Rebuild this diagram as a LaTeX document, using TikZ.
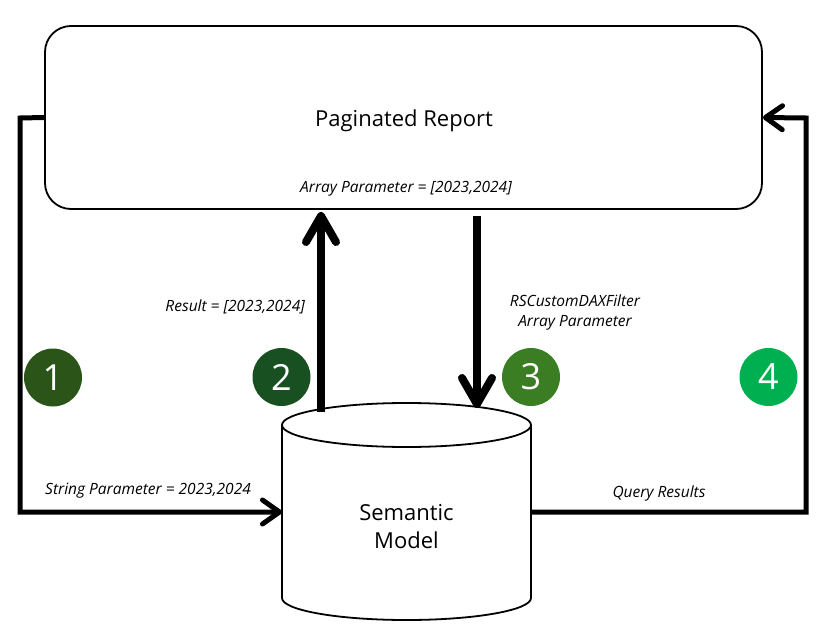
\documentclass[tikz,border=0pt]{standalone}
\usepackage{fontspec}
\setmainfont{Open Sans}
\usetikzlibrary{arrows.meta}
\definecolor{cone}{RGB}{43,85,24}
\definecolor{ctwo}{RGB}{24,80,34}
\definecolor{cthree}{RGB}{59,125,35}
\definecolor{cfour}{RGB}{0,176,80}
\tikzset{
  boxline/.style={draw=black,line width=1.8pt,fill=white},
  loopline/.style={line width=5pt,line join=miter},
  looparrow/.style={loopline,-{Straight Barb[length=17pt,width=24pt,round]}},
  bigarrow/.style={line width=8pt,-{Straight Barb[length=26pt,width=30pt,round]}},
  numcircle/.style={circle,minimum size=58pt,inner sep=0pt,text=white,font=\fontsize{36}{36}\selectfont},
  smalllabel/.style={font=\fontsize{15.5}{20}\selectfont\itshape,inner sep=1pt,align=center},
  biglabel/.style={font=\fontsize{22}{28}\selectfont,align=center}
}
\begin{document}
\begin{tikzpicture}[x=1pt,y=-1pt]
\useasboundingbox (0,0) rectangle (823,637);
% report box
\node[boxline,rounded corners=26pt,minimum width=717pt,minimum height=183pt,inner sep=0pt] (report) at (403.5,117.5) {};
\node[biglabel] (rtitle) at (404,121) {Paginated Report};
\node[smalllabel] (arrparam) at (406,189) {Array Parameter = [2023,2024]};
% cylinder
\draw[boxline] (282,425) -- (282,598) arc[start angle=180,end angle=0,x radius=124.5,y radius=22] -- (531,425);
\draw[boxline] (406.5,425) ellipse[x radius=124.5,y radius=22];
\node[biglabel] (sm) at (406.5,527) {Semantic\\Model};
% connection points
\coordinate (smleft) at (282,512);
\coordinate (smright) at (531,512);
\coordinate (lcorner1) at (20,118);
\coordinate (lcorner2) at (20,512);
\coordinate (rcorner1) at (806,512);
\coordinate (rcorner2) at (806,118);
\coordinate (twostart) at (321,412);
\coordinate (twoend) at (321,212);
\coordinate (threestart) at (477,216);
\coordinate (threeend) at (477,408);
% loops
\draw[looparrow] (report.west) -- (lcorner1) -- (lcorner2) -- (smleft);
\draw[looparrow] (smright) -- (rcorner1) -- (rcorner2) -- (report.east);
% vertical arrows
\draw[bigarrow] (twostart) -- (twoend);
\draw[bigarrow] (threestart) -- (threeend);
% labels
\node[smalllabel,anchor=east] (reslabel) at (306,307) {Result = [2023,2024]};
\node[smalllabel] (daxlabel) at (575,312) {RSCustomDAXFilter\\Array Parameter};
\node[smalllabel,anchor=west] (strlabel) at (44,491) {String Parameter = 2023,2024};
\node[smalllabel] (qlabel) at (659,493) {Query Results};
% numbered circles
\node[numcircle,fill=cone] (n1) at (53,377.5) {1};
\node[numcircle,fill=ctwo] (n2) at (281.5,377) {2};
\node[numcircle,fill=cthree] (n3) at (531,377) {3};
\node[numcircle,fill=cfour] (n4) at (768.5,377) {4};
\end{tikzpicture}
\end{document}
